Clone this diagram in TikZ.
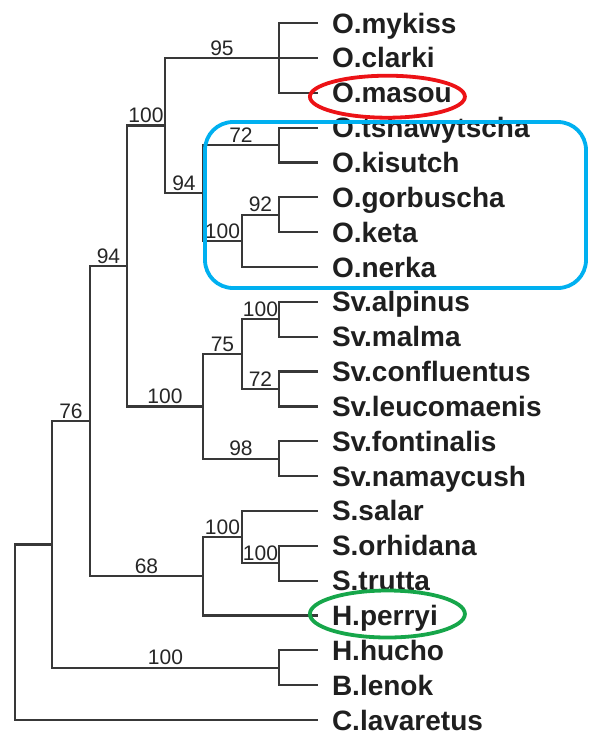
\documentclass[tikz,border=0pt]{standalone}
\usepackage{fontspec}
\setmainfont{Liberation Sans}
\usetikzlibrary{calc}
\definecolor{ringred}{RGB}{236,18,22}
\definecolor{ringgreen}{RGB}{22,166,74}
\definecolor{ringblue}{RGB}{0,176,240}
\tikzset{
  branch/.style={draw=black!78, line width=2.2pt},
  taxon/.style={anchor=west, inner sep=0pt, outer xsep=14pt, text height=20pt, text depth=0pt, font=\fontsize{28}{30}\selectfont\bfseries, text=black!88},
  boot/.style={pos=0.75, anchor=south, inner sep=0pt, yshift=1.5pt, font=\fontsize{21}{23}\selectfont, text=black!85},
  ring/.style={line width=3.8pt}
}
\begin{document}
\begin{tikzpicture}[x=1pt, y=-1pt]
  \useasboundingbox (0,0) rectangle (589,732);
  \node[taxon] (mykiss) at (318,23) {O.mykiss};
  \node[taxon] (clarki) at (318,57.9) {O.clarki};
  \node[taxon] (masou) at (318,92.7) {O.masou};
  \node[taxon] (tshaw) at (318,127.6) {O.tshawytscha};
  \node[taxon] (kisutch) at (318,162.4) {O.kisutch};
  \node[taxon] (gorbus) at (318,197.3) {O.gorbuscha};
  \node[taxon] (keta) at (318,232.1) {O.keta};
  \node[taxon] (nerka) at (318,267) {O.nerka};
  \node[taxon] (alpinus) at (318,301.8) {Sv.alpinus};
  \node[taxon] (malma) at (318,336.7) {Sv.malma};
  \node[taxon] (conflu) at (318,371.5) {Sv.confluentus};
  \node[taxon] (leuco) at (318,406.4) {Sv.leucomaenis};
  \node[taxon] (fontin) at (318,441.2) {Sv.fontinalis};
  \node[taxon] (namay) at (318,476.1) {Sv.namaycush};
  \node[taxon] (salar) at (318,510.9) {S.salar};
  \node[taxon] (orhid) at (318,545.8) {S.orhidana};
  \node[taxon] (trutta) at (318,580.6) {S.trutta};
  \node[taxon] (perryi) at (318,615.5) {H.perryi};
  \node[taxon] (hucho) at (318,650.3) {H.hucho};
  \node[taxon] (lenok) at (318,685.2) {B.lenok};
  \node[taxon] (lavar) at (318,720) {C.lavaretus};

  \coordinate (nmyk) at (279,57.9);
  \coordinate (ntsh) at (279,145);
  \coordinate (ngor) at (279,214.7);
  \coordinate (nker) at (242,240.8);
  \coordinate (npac) at (203,192.9);
  \coordinate (nonc) at (165,125.4);
  \coordinate (nalp) at (279,319.2);
  \coordinate (ncon) at (279,388.9);
  \coordinate (nchr) at (242,354.1);
  \coordinate (nfon) at (279,458.6);
  \coordinate (nsalv) at (203,406.4);
  \coordinate (nos) at (127,265.9);
  \coordinate (ntru) at (279,563.2);
  \coordinate (nsal) at (242,537.1);
  \coordinate (nsalmo) at (203,576.3);
  \coordinate (nmid) at (90,421.1);
  \coordinate (nhuc) at (279,667.7);
  \coordinate (ning) at (52,544.4);
  \coordinate (nroot) at (15,632.2);

  \draw[branch] (nmyk) |- (mykiss);
  \draw[branch] (nmyk) |- (clarki);
  \draw[branch] (nmyk) |- (masou);
  \draw[branch] (ntsh) |- (tshaw);
  \draw[branch] (ntsh) |- (kisutch);
  \draw[branch] (ngor) |- (gorbus);
  \draw[branch] (ngor) |- (keta);
  \draw[branch] (nker) |- node[boot] {92} (ngor);
  \draw[branch] (nker) |- (nerka);
  \draw[branch] (npac) |- node[boot] {72} (ntsh);
  \draw[branch] (npac) |- node[boot] {100} (nker);
  \draw[branch] (nonc) |- node[boot] {95} (nmyk);
  \draw[branch] (nonc) |- node[boot] {94} (npac);
  \draw[branch] (nalp) |- (alpinus);
  \draw[branch] (nalp) |- (malma);
  \draw[branch] (ncon) |- (conflu);
  \draw[branch] (ncon) |- (leuco);
  \draw[branch] (nfon) |- (fontin);
  \draw[branch] (nfon) |- (namay);
  \draw[branch] (nchr) |- node[boot] {100} (nalp);
  \draw[branch] (nchr) |- node[boot] {72} (ncon);
  \draw[branch] (nsalv) |- node[boot] {75} (nchr);
  \draw[branch] (nsalv) |- node[boot] {98} (nfon);
  \draw[branch] (nos) |- node[boot] {100} (nonc);
  \draw[branch] (nos) |- node[boot] {100} (nsalv);
  \draw[branch] (ntru) |- (orhid);
  \draw[branch] (ntru) |- (trutta);
  \draw[branch] (nsal) |- (salar);
  \draw[branch] (nsal) |- node[boot] {100} (ntru);
  \draw[branch] (nsalmo) |- node[boot] {100} (nsal);
  \draw[branch] (nsalmo) |- (perryi);
  \draw[branch] (nmid) |- node[boot] {94} (nos);
  \draw[branch] (nmid) |- node[boot] {68} (nsalmo);
  \draw[branch] (nhuc) |- (hucho);
  \draw[branch] (nhuc) |- (lenok);
  \draw[branch] (ning) |- node[boot] {76} (nmid);
  \draw[branch] (ning) |- node[boot] {100} (nhuc);
  \draw[branch] (nroot) |- (ning);
  \draw[branch] (nroot) |- (lavar);

  \draw[ring, ringred] ($(masou.center)+(-4.5,4)$) ellipse [x radius=77.5, y radius=21];
  \draw[ring, ringgreen] ($(perryi.center)+(2.5,-1.5)$) ellipse [x radius=77.5, y radius=23.5];
  \draw[ring, ringblue, rounded corners=28pt] (205,122) rectangle (586,288);
\end{tikzpicture}
\end{document}
